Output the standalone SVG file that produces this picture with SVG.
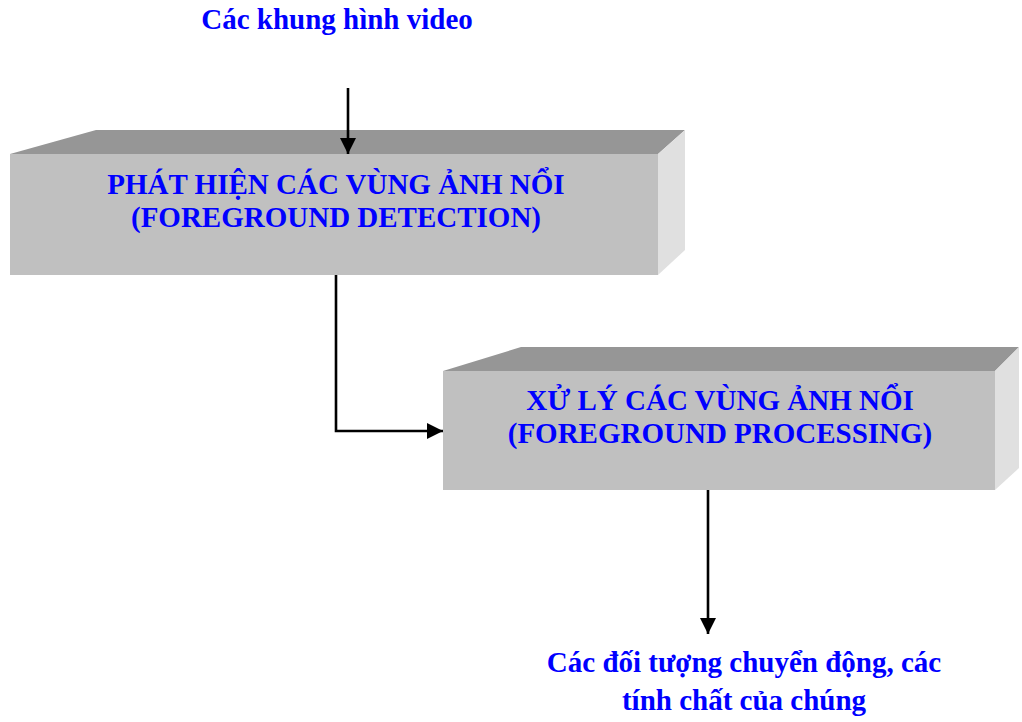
<svg xmlns="http://www.w3.org/2000/svg" width="1022" height="722" viewBox="0 0 1022 722">
<defs>
<style>
.front{fill:#c0c0c0;}
.top{fill:#969696;}
.side{fill:#e0e0e0;}
.t{font-family:"Liberation Serif","Times New Roman",serif;font-weight:bold;fill:#0000ff;font-size:29px;text-anchor:middle;}
.c{stroke:#000;stroke-width:2.6;fill:none;}
</style>
<marker id="ah" viewBox="0 0 16 16" refX="16" refY="8" markerWidth="16" markerHeight="16" markerUnits="userSpaceOnUse" orient="auto">
<path d="M0,0 L16,8 L0,16 Z" fill="#000"/>
</marker>
</defs>
<rect width="1022" height="722" fill="#fff"/>
<g id="label-input">
<text class="t" x="337" y="29">Các khung hình video</text>
</g>
<g id="node-detection">
<polygon class="top" points="10,154 96,130 685,130 658,154"/>
<polygon class="side" points="658,154 685,130 685,250 658,275"/>
<rect class="front" x="10" y="154" width="648" height="121"/>
<text class="t" x="336" y="194">PHÁT HIỆN CÁC VÙNG ẢNH NỔI</text>
<text class="t" x="336" y="227">(FOREGROUND DETECTION)</text>
</g>
<g id="node-processing">
<polygon class="top" points="443,371 521,347 1019,347 995,371"/>
<polygon class="side" points="995,371 1019,347 1019,468 995,490"/>
<rect class="front" x="443" y="371" width="552" height="119"/>
<text class="t" x="720" y="410">XỬ LÝ CÁC VÙNG ẢNH NỔI</text>
<text class="t" x="720" y="443">(FOREGROUND PROCESSING)</text>
</g>
<g id="label-output">
<text class="t" x="744" y="672">Các đối tượng chuyển động, các</text>
<text class="t" x="744" y="710">tính chất của chúng</text>
</g>
<g id="connectors">
<path class="c" d="M348,88 L348,154" marker-end="url(#ah)"/>
<path class="c" d="M336,275 L336,431 L443,431" marker-end="url(#ah)"/>
<path class="c" d="M708,490 L708,634" marker-end="url(#ah)"/>
</g>
</svg>
